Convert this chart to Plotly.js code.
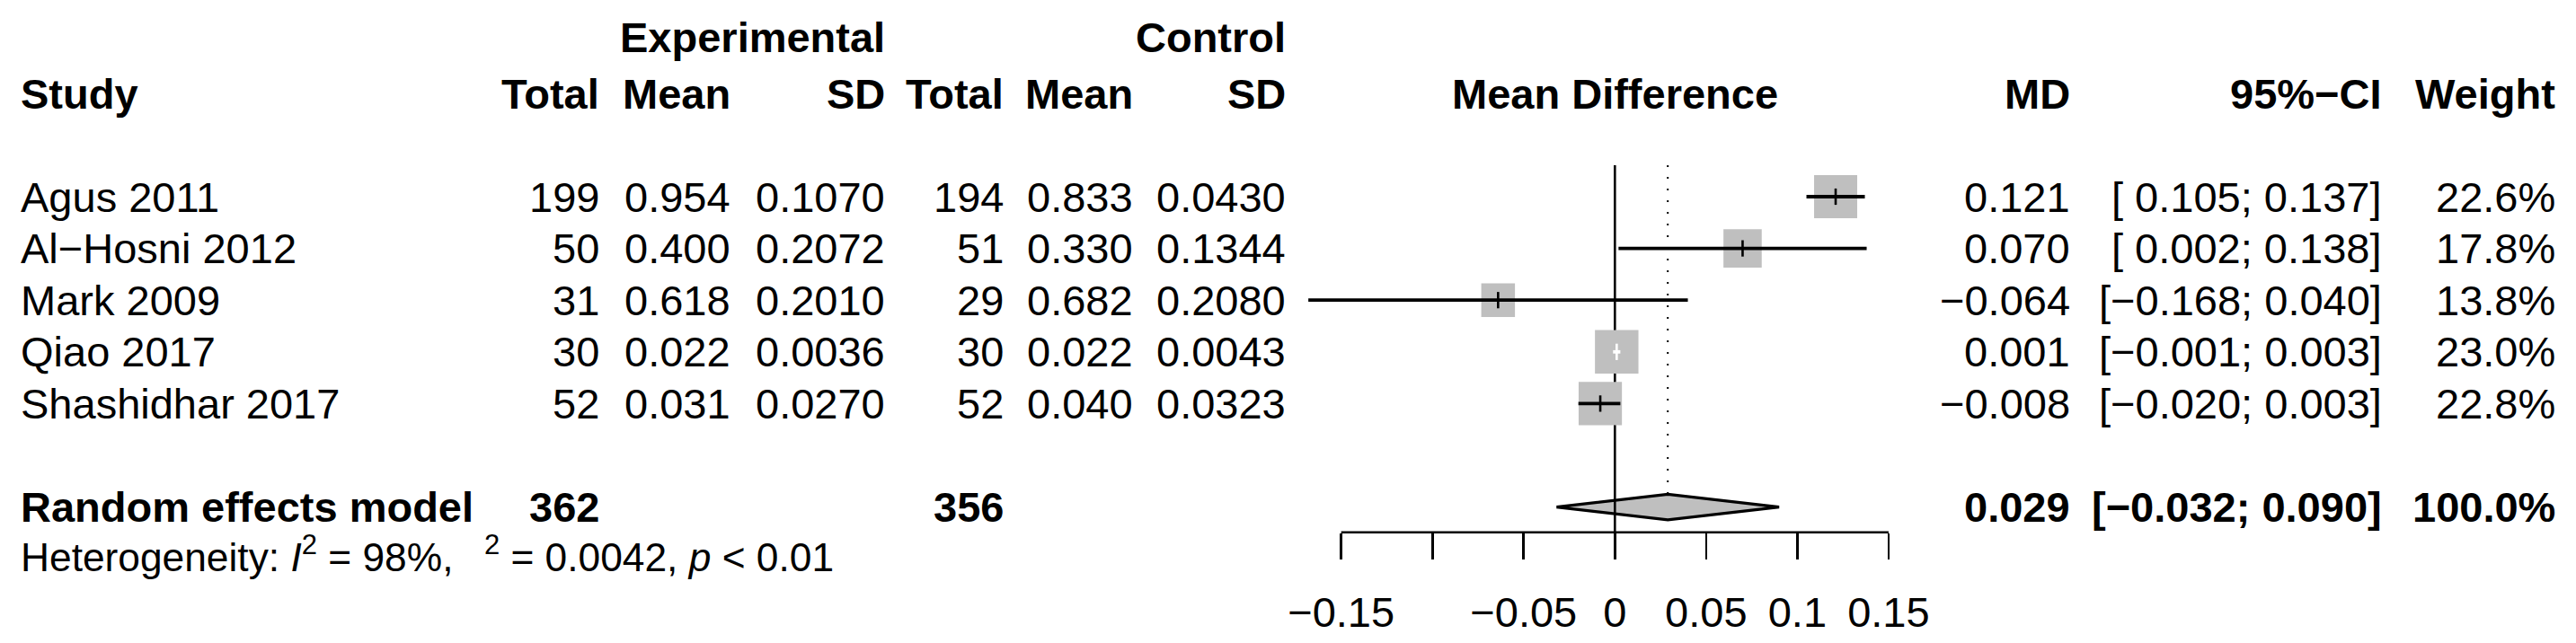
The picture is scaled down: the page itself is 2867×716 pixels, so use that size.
<!DOCTYPE html>
<html>
<head>
<meta charset="utf-8">
<script src="https://cdn.plot.ly/plotly-3.0.1.min.js"></script>
<style>
html,body{margin:0;padding:0;background:#fff;}
#chart{width:2867px;height:716px;}
</style>
</head>
<body>
<div id="chart"></div>
<script>
// ---------------- data ----------------
const studies   = ["Agus 2011", "Al\u2212Hosni 2012", "Mark 2009", "Qiao 2017", "Shashidhar 2017"];
const expTotal  = [199, 50, 31, 30, 52];
const expMean   = [0.954, 0.400, 0.618, 0.022, 0.031];
const expSD     = [0.1070, 0.2072, 0.2010, 0.0036, 0.0270];
const ctrlTotal = [194, 51, 29, 30, 52];
const ctrlMean  = [0.833, 0.330, 0.682, 0.022, 0.040];
const ctrlSD    = [0.0430, 0.1344, 0.2080, 0.0043, 0.0323];
const md        = [0.121, 0.070, -0.064, 0.001, -0.008];
const ciLower   = [0.105, 0.002, -0.168, -0.001, -0.020];
const ciUpper   = [0.137, 0.138, 0.040, 0.003, 0.003];
const weight    = [22.6, 17.8, 13.8, 23.0, 22.8];

const pooledLabel = "Random effects model";
const pooledExpTotal = 362;
const pooledCtrlTotal = 356;
const pooledMD = 0.029;
const pooledLower = -0.032;
const pooledUpper = 0.090;
const pooledWeight = 100.0;
const hetI2 = "98%";
const hetTau2 = "0.0042";
const hetP = "&lt; 0.01";

const tickVals   = [-0.15, -0.1, -0.05, 0, 0.05, 0.1, 0.15];
const tickLabels = ["\u22120.15", "", "\u22120.05", "0", "0.05", "0.1", "0.15"];

// ---------------- layout constants ----------------
const W = 2867, H = 716;
const FONT = "Liberation Sans, Arial, Helvetica, sans-serif";
const FS = 47;
const FS_HET = 44.3;
const zeroPx = 1797.3, pxPerUnit = 2030.7;      // x scale
const row1Px = 219, rowPx = 57.6;               // y scale (rows)
const rowOf = px => 1 + (px - row1Px) / rowPx;
const axisPx = 592.7;
const axisRow = rowOf(axisPx);
const studyRows = studies.map((s, i) => i + 1);
const reRow = 7;
const hetRow = rowOf(617);
const head1Row = rowOf(41);
const head2Row = rowOf(104);
const refTopRow = rowOf(184);
const diamondHalf = 14.2 / rowPx;
const insideColor = ["#000", "#000", "#000", "#fff", "#000"];

// ---------------- formatting ----------------
const M = "\u2212";
const f = (v, d) => (v < 0 ? M : "") + Math.abs(v).toFixed(d);
const fpad = (v, d) => (v < 0 ? M : "\u00a0") + Math.abs(v).toFixed(d);
const ci = (lo, hi) => "[" + fpad(lo, 3) + "; " + f(hi, 3) + "]";

// ---------------- text columns (pixel positions) ----------------
const col = {
  study: 22, eTot: 668, eMean: 814, eSD: 986,
  cTot: 1117.5, cMean: 1262, cSD: 1431.6,
  md: 2305, ci: 2652, w: 2845
};
function ann(text, xpx, row, xanchor, extra) {
  return Object.assign({
    text: text, x: xpx / W, xref: "paper", y: row, yref: "y",
    xanchor: xanchor, yanchor: "middle", showarrow: false, borderpad: 0,
    font: {family: FONT, size: FS, color: "#000"}
  }, extra || {});
}
const annotations = [];
annotations.push(ann("<b>Experimental</b>", col.eSD, head1Row, "right"));
annotations.push(ann("<b>Control</b>", col.cSD, head1Row, "right"));
annotations.push(ann("<b>Study</b>", col.study, head2Row, "left"));
annotations.push(ann("<b>Total</b>", col.eTot, head2Row, "right"));
annotations.push(ann("<b>Mean</b>", col.eMean, head2Row, "right"));
annotations.push(ann("<b>SD</b>", col.eSD, head2Row, "right"));
annotations.push(ann("<b>Total</b>", col.cTot, head2Row, "right"));
annotations.push(ann("<b>Mean</b>", col.cMean, head2Row, "right"));
annotations.push(ann("<b>SD</b>", col.cSD, head2Row, "right"));
annotations.push(ann("<b>Mean Difference</b>", zeroPx, head2Row, "center"));
annotations.push(ann("<b>MD</b>", col.md, head2Row, "right"));
annotations.push(ann("<b>95%\u2212CI</b>", col.ci, head2Row, "right"));
annotations.push(ann("<b>Weight</b>", col.w, head2Row, "right"));

studies.forEach((s, i) => {
  const r = studyRows[i];
  annotations.push(ann(s, col.study, r, "left"));
  annotations.push(ann(String(expTotal[i]), col.eTot, r, "right"));
  annotations.push(ann(expMean[i].toFixed(3), col.eMean, r, "right"));
  annotations.push(ann(expSD[i].toFixed(4), col.eSD, r, "right"));
  annotations.push(ann(String(ctrlTotal[i]), col.cTot, r, "right"));
  annotations.push(ann(ctrlMean[i].toFixed(3), col.cMean, r, "right"));
  annotations.push(ann(ctrlSD[i].toFixed(4), col.cSD, r, "right"));
  annotations.push(ann(f(md[i], 3), col.md, r, "right"));
  annotations.push(ann(ci(ciLower[i], ciUpper[i]), col.ci, r, "right"));
  annotations.push(ann(weight[i].toFixed(1) + "%", col.w, r, "right"));
});

annotations.push(ann("<b>" + pooledLabel + "</b>", col.study, reRow, "left"));
annotations.push(ann("<b>" + pooledExpTotal + "</b>", col.eTot, reRow, "right"));
annotations.push(ann("<b>" + pooledCtrlTotal + "</b>", col.cTot, reRow, "right"));
annotations.push(ann("<b>" + f(pooledMD, 3) + "</b>", col.md, reRow, "right"));
annotations.push(ann("<b>" + ci(pooledLower, pooledUpper) + "</b>", col.ci, reRow, "right"));
annotations.push(ann("<b>" + pooledWeight.toFixed(1) + "%</b>", col.w, reRow, "right"));
annotations.push(ann("Heterogeneity: <i>I</i><sup>2</sup> = " + hetI2 + ",\u00a0\u2002<sup>2</sup> = " + hetTau2 + ", <i>p</i> " + hetP,
  col.study, hetRow, "left", {font: {family: FONT, size: FS_HET, color: "#000"}}));

// ---------------- traces ----------------
const traces = [];
// pooled diamond
traces.push({
  type: "scatter", mode: "lines", hoverinfo: "skip",
  x: [pooledLower, pooledMD, pooledUpper, pooledMD, pooledLower],
  y: [reRow, reRow - diamondHalf, reRow, reRow + diamondHalf, reRow],
  fill: "toself", fillcolor: "#bfbfbf",
  line: {color: "#000", width: 3.3}
});
// no-effect line
traces.push({
  type: "scatter", mode: "lines", hoverinfo: "skip",
  x: [0, 0], y: [refTopRow, axisRow],
  line: {color: "#000", width: 2.6}
});
// pooled estimate dotted line
traces.push({
  type: "scatter", mode: "lines", hoverinfo: "skip",
  x: [pooledMD, pooledMD], y: [refTopRow, reRow - diamondHalf],
  line: {color: "#000", width: 2, dash: "2px,11px"}
});
// weight squares
const maxW = Math.max.apply(null, weight);
traces.push({
  type: "scatter", mode: "markers", hoverinfo: "skip", cliponaxis: false,
  x: md, y: studyRows,
  marker: {symbol: "square", color: "#bfbfbf", opacity: 1, line: {width: 0},
           size: weight.map(w => 48.4 * Math.sqrt(w / maxW))}
});
// confidence intervals
studies.forEach((s, i) => {
  traces.push({
    type: "scatter", mode: "lines", hoverinfo: "skip",
    x: [ciLower[i], ciUpper[i]], y: [studyRows[i], studyRows[i]],
    line: {color: insideColor[i], width: 3.8}
  });
});
// point estimate ticks
traces.push({
  type: "scatter", mode: "markers", hoverinfo: "skip", cliponaxis: false,
  x: md, y: studyRows,
  marker: {symbol: "line-ns", size: 13, opacity: 1, color: insideColor,
           line: {width: 2.6, color: insideColor}}
});

const layout = {
  width: W, height: H,
  margin: {l: 0, r: 0, t: 0, b: 0, pad: 0},
  paper_bgcolor: "#fff", plot_bgcolor: "#fff",
  showlegend: false,
  font: {family: FONT, size: FS, color: "#000"},
  xaxis: {
    domain: [0, 1],
    range: [(0 - zeroPx) / pxPerUnit, (W - zeroPx) / pxPerUnit],
    showgrid: false, zeroline: false, showline: false,
    tickmode: "array", tickvals: tickVals, ticktext: tickLabels,
    ticks: "outside", ticklen: 29, tickwidth: 2.6, tickcolor: "#000",
    ticklabelstandoff: 19,
    tickfont: {family: FONT, size: FS, color: "#000"},
    anchor: "free", position: 1 - axisPx / H,
    fixedrange: true
  },
  yaxis: {
    domain: [0, 1],
    range: [rowOf(H), rowOf(0)],
    visible: false, showgrid: false, zeroline: false, fixedrange: true
  },
  shapes: [{
    type: "line", xref: "x", yref: "y", layer: "below",
    x0: tickVals[0], x1: tickVals[tickVals.length - 1], y0: axisRow, y1: axisRow,
    line: {color: "#000", width: 2.6}
  }],
  annotations: annotations
};

Plotly.newPlot("chart", traces, layout, {staticPlot: true, displayModeBar: false});
</script>
</body>
</html>
